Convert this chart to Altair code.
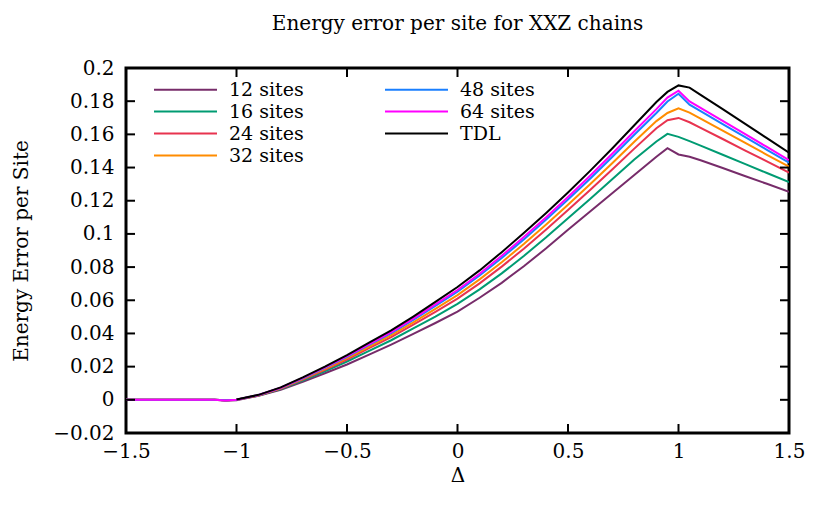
import altair as alt
import pandas as pd

delta = [-1.5, -1.4, -1.3, -1.2, -1.1, -1.05, -1.0, -0.9, -0.8, -0.7, -0.6, -0.5, -0.4, -0.3,
         -0.2, -0.1, 0.0, 0.1, 0.2, 0.3, 0.4, 0.5, 0.6, 0.7, 0.8, 0.9, 0.95, 1.0, 1.05,
         1.1, 1.2, 1.3, 1.4, 1.5]

err_12 = [0, 0, 0, 0, 0, -0.0006, -0.0002, 0.0024, 0.0060, 0.0108, 0.0160, 0.0213, 0.0272, 0.0333,
          0.0397, 0.0463, 0.0532, 0.0615, 0.0705, 0.0805, 0.0912, 0.1025, 0.1135, 0.1245, 0.1355, 0.1465,
          0.1517, 0.1479, 0.1465, 0.1444, 0.1397, 0.1349, 0.1302, 0.1254]
err_16 = [0, 0, 0, 0, 0, -0.0002, 0.0000, 0.0026, 0.0065, 0.0116, 0.0172, 0.0231, 0.0295, 0.0359,
          0.0430, 0.0502, 0.0578, 0.0666, 0.0762, 0.0867, 0.0978, 0.1095, 0.1211, 0.1329, 0.1448, 0.1557,
          0.1603, 0.1585, 0.1559, 0.1532, 0.1477, 0.1422, 0.1367, 0.1312]
err_24 = [0, 0, 0, 0, 0, -0.0002, 0.0000, 0.0027, 0.0068, 0.0122, 0.0181, 0.0243, 0.0311, 0.0378,
          0.0453, 0.0530, 0.0610, 0.0702, 0.0803, 0.0911, 0.1025, 0.1144, 0.1265, 0.1388, 0.1514, 0.1637,
          0.1685, 0.1699, 0.1673, 0.1639, 0.1572, 0.1504, 0.1437, 0.1369]
err_32 = [0, 0, 0, 0, 0, -0.0002, 0.0000, 0.0028, 0.0070, 0.0126, 0.0187, 0.0251, 0.0321, 0.0390,
          0.0467, 0.0548, 0.0631, 0.0726, 0.0829, 0.0939, 0.1055, 0.1176, 0.1299, 0.1426, 0.1556, 0.1680,
          0.1729, 0.1757, 0.1731, 0.1695, 0.1622, 0.1550, 0.1477, 0.1405]
err_48 = [0, 0, 0, 0, 0, -0.0003, 0.0001, 0.0029, 0.0072, 0.0130, 0.0192, 0.0259, 0.0331, 0.0402,
          0.0482, 0.0566, 0.0652, 0.0749, 0.0855, 0.0967, 0.1085, 0.1207, 0.1333, 0.1464, 0.1598, 0.1729,
          0.1798, 0.1845, 0.1779, 0.1740, 0.1662, 0.1585, 0.1507, 0.1429]
err_64 = [0, 0, 0, 0, 0, -0.0004, 0.0001, 0.0029, 0.0073, 0.0132, 0.0195, 0.0263, 0.0336, 0.0408,
          0.0489, 0.0575, 0.0662, 0.0760, 0.0868, 0.0981, 0.1099, 0.1223, 0.1351, 0.1483, 0.1619, 0.1752,
          0.1822, 0.1863, 0.1799, 0.1760, 0.1681, 0.1603, 0.1524, 0.1445]
err_tdl = [None, None, None, None, None, None, 0.0002, 0.0030, 0.0075, 0.0135, 0.0200, 0.0270, 0.0345, 0.0418,
           0.0502, 0.0590, 0.0680, 0.0780, 0.0890, 0.1005, 0.1125, 0.1250, 0.1380, 0.1515, 0.1655, 0.1795,
           0.1856, 0.1895, 0.1882, 0.1838, 0.1752, 0.1665, 0.1577, 0.1489]

series_names = ["12 sites", "16 sites", "24 sites", "32 sites", "48 sites", "64 sites", "TDL"]
series_values = [err_12, err_16, err_24, err_32, err_48, err_64, err_tdl]
series_colors = ["#772C6A", "#009B72", "#E8334F", "#FF8C00", "#1A7FFF", "#FF00FF", "#000000"]

x_ticks = [-1.5, -1, -0.5, 0, 0.5, 1, 1.5]
y_ticks = [-0.02, 0, 0.02, 0.04, 0.06, 0.08, 0.1, 0.12, 0.14, 0.16, 0.18, 0.2]

rows = []
for k, (name, vals) in enumerate(zip(series_names, series_values)):
    for d, v in zip(delta, vals):
        if v is not None:
            rows.append({"delta": d, "err": v, "series": name, "order": k})
df = pd.DataFrame(rows)

W, H = 663, 365
FONT = "DejaVu Serif"
FS = 20
LFS = 19

xscale = alt.Scale(domain=[-1.5, 1.5], nice=False, zero=False)
yscale = alt.Scale(domain=[-0.02, 0.2], nice=False, zero=False)

x_axis = alt.Axis(values=x_ticks, format=".1~f", title="Δ", grid=False, ticks=False,
                  domain=False, labelPadding=8, titlePadding=4, labelOverlap=False,
                  labelFlush=False)
y_axis = alt.Axis(values=y_ticks, format=".2~f", title="Energy Error per Site", grid=False,
                  ticks=False, domain=False, labelPadding=12, titlePadding=21,
                  labelOverlap=False, labelFlush=False)

lines = alt.Chart(df).mark_line(strokeWidth=2, clip=True).encode(
    x=alt.X("delta:Q", scale=xscale, axis=x_axis),
    y=alt.Y("err:Q", scale=yscale, axis=y_axis),
    color=alt.Color("series:N",
                    scale=alt.Scale(domain=series_names, range=series_colors),
                    legend=alt.Legend(title=None, orient="none", legendX=48, legendY=10, columns=2,
                                      symbolType="M-3,0H3", symbolSize=441, symbolStrokeWidth=2,
                                      labelFontSize=LFS, labelFont=FONT, labelLimit=200,
                                      columnPadding=77, rowPadding=0, labelOffset=32,
                                      symbolOffset=0)),
    detail="series:N",
    order="order:Q",
)

yt = pd.DataFrame({"v": y_ticks})
xt = pd.DataFrame({"v": x_ticks})
tick_style = dict(color="black", strokeWidth=2)
left_ticks = alt.Chart(yt).mark_rule(**tick_style).encode(
    y=alt.Y("v:Q", scale=yscale, axis=y_axis), x=alt.value(0), x2=alt.value(9))
right_ticks = alt.Chart(yt).mark_rule(**tick_style).encode(
    y=alt.Y("v:Q", scale=yscale, axis=y_axis), x=alt.value(W - 9), x2=alt.value(W))
bottom_ticks = alt.Chart(xt).mark_rule(**tick_style).encode(
    x=alt.X("v:Q", scale=xscale, axis=x_axis), y=alt.value(H), y2=alt.value(H - 9))
top_ticks = alt.Chart(xt).mark_rule(**tick_style).encode(
    x=alt.X("v:Q", scale=xscale, axis=x_axis), y=alt.value(0), y2=alt.value(9))

chart = alt.layer(lines, left_ticks, right_ticks, bottom_ticks, top_ticks).properties(
    width=W, height=H,
    title=alt.TitleParams("Energy error per site for XXZ chains", anchor="middle", font=FONT,
                          fontSize=FS, fontWeight="normal", offset=24, color="black"),
    autosize=alt.AutoSizeParams(type="none"),
    padding={"left": 118, "top": 60, "right": 32, "bottom": 66},
).configure_view(stroke="black", strokeWidth=3).configure_axis(
    labelFont=FONT, labelFontSize=FS, titleFont=FONT, titleFontSize=FS, titleFontWeight="normal",
    labelColor="black", titleColor="black"
).configure_legend(padding=0)

chart.save("out.html", embed_options={"renderer": "svg", "actions": False})
